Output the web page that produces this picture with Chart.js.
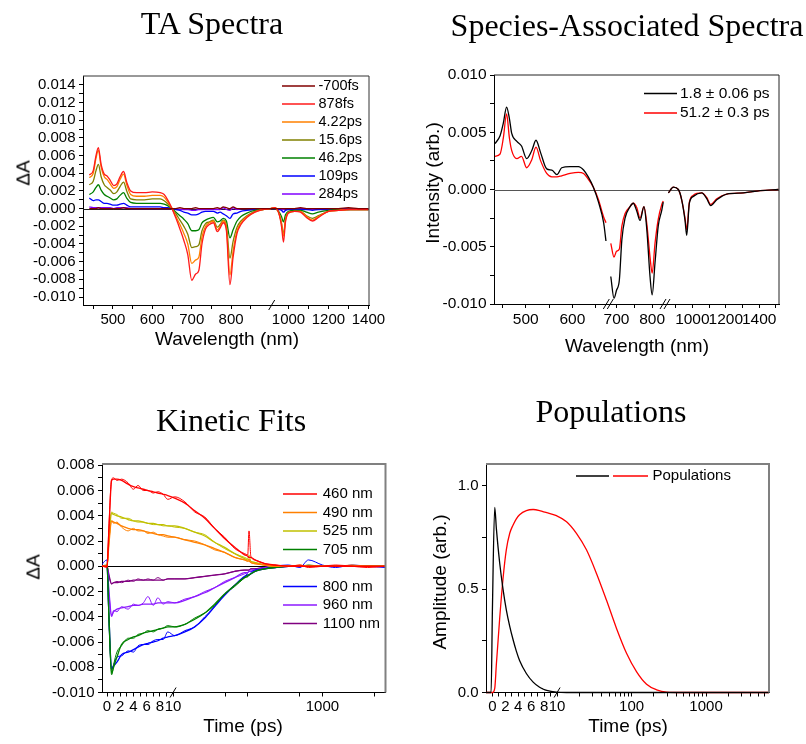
<!DOCTYPE html>
<html>
<head>
<meta charset="utf-8">
<script src="https://cdn.jsdelivr.net/npm/chart.js"></script>
<style>
  body { margin: 0; background: #fff; width: 806px; height: 744px; position: relative; overflow: hidden; font-family: "Liberation Sans", Arial, sans-serif; }
  canvas { position: absolute; left: 0; top: 0; }
  .t { position: absolute; font-family: "Liberation Serif", "Times New Roman", serif; font-size: 32px; line-height: 32px; white-space: nowrap; transform: translateX(-50%); }
  .ax { position: absolute; font-size: 19px; line-height: 19px; white-space: nowrap; transform: translate(-50%, -50%); }
  .ax.v { transform: translate(-50%, -50%) rotate(-90deg); }
</style>
</head>
<body>
<canvas id="ta" width="806" height="744"></canvas>
<canvas id="sas" width="806" height="744"></canvas>
<canvas id="kin" width="806" height="744"></canvas>
<canvas id="pop" width="806" height="744"></canvas>

<div class="t" style="left:212px;top:7px">TA Spectra</div>
<div class="t" style="left:627px;top:9px">Species-Associated Spectra</div>
<div class="t" style="left:231px;top:404px">Kinetic Fits</div>
<div class="t" style="left:611px;top:395px">Populations</div>

<div class="ax v" style="left:23px;top:173px">ΔA</div>
<div class="ax" style="left:227px;top:338px">Wavelength (nm)</div>
<div class="ax v" style="left:432px;top:183px">Intensity (arb.)</div>
<div class="ax" style="left:637px;top:345px">Wavelength (nm)</div>
<div class="ax v" style="left:33px;top:567px">ΔA</div>
<div class="ax" style="left:243px;top:725px">Time (ps)</div>
<div class="ax v" style="left:439px;top:582px">Amplitude (arb.)</div>
<div class="ax" style="left:628px;top:725px">Time (ps)</div>

<script>
// ---- TA spectra (nm) ----
var taWl = [440,450,457,463,470,478,485,493,502,510, 518,527,535,545,560,580,600,620,630,640,
            650,660,670,680,690,700,710,718,726,735, 745,755,765,772,780,788,797,805,815,825,
            840,860,880,900,930,950,965,975,985,1000, 1030,1060,1090,1120,1150,1200,1250,1300,1350,1400]
var taLabels = ['-700fs', '878fs', '4.22ps', '15.6ps', '46.2ps', '109ps', '284ps']
var ta700fs = [0,0,0,0.0001,0,0,0,0,0,0, 0,0.0001,0,0,0,0,0,0,0,0,
               0,0,0.0001,0,0,0,0.0001,0,0,0, 0,0,0.0001,0,0.0002,0.0001,0,0.0002,0,0,
               0,0,0,0,0,0,0,0,0,0, 0,0.0001,0,0,0,0,0,0.0001,0,0]
var ta878fs = [0.0038,0.0043,0.0060,0.0069,0.0050,0.0039,0.0037,0.0032,0.0026,0.0028,
               0.0036,0.0042,0.0030,0.0020,0.0018,0.0018,0.0019,0.0018,0.0016,0.0009,
               0.0000,-0.0011,-0.0023,-0.0036,-0.0052,-0.0081,-0.0074,-0.0070,-0.0040,-0.0023,
               -0.0018,-0.0016,-0.0026,-0.0022,-0.0016,-0.0025,-0.0086,-0.0055,-0.0028,-0.0018,
               -0.0010,-0.0004,-0.0001,0.0000,0.0001,-0.0004,-0.0020,-0.0038,-0.0015,-0.0005,
               -0.0003,-0.0004,-0.0010,-0.0014,-0.0010,-0.0003,-0.0002,-0.0001,-0.0001,-0.0001]
var ta422ps = [0.0035,0.0040,0.0057,0.0066,0.0047,0.0036,0.0033,0.0028,0.0023,0.0025,
               0.0033,0.0039,0.0027,0.0016,0.0014,0.0014,0.0015,0.0015,0.0013,0.0007,
               0.0000,-0.0009,-0.0018,-0.0028,-0.0040,-0.0062,-0.0058,-0.0055,-0.0032,-0.0020,
               -0.0016,-0.0014,-0.0024,-0.0020,-0.0014,-0.0022,-0.0075,-0.0048,-0.0025,-0.0016,
               -0.0009,-0.0004,-0.0001,0.0000,0.0001,-0.0004,-0.0017,-0.0031,-0.0013,-0.0005,
               -0.0003,-0.0003,-0.0009,-0.0013,-0.0009,-0.0003,-0.0002,-0.0001,-0.0001,-0.0001]
var ta156ps = [0.0027,0.0031,0.0043,0.0050,0.0036,0.0027,0.0024,0.0021,0.0017,0.0019,
               0.0025,0.0030,0.0020,0.0011,0.0010,0.0010,0.0011,0.0011,0.0009,0.0005,
               0.0000,-0.0006,-0.0013,-0.0020,-0.0029,-0.0044,-0.0043,-0.0041,-0.0025,-0.0017,
               -0.0015,-0.0013,-0.0021,-0.0018,-0.0013,-0.0019,-0.0056,-0.0037,-0.0021,-0.0014,
               -0.0008,-0.0003,-0.0001,0.0000,0.0001,-0.0004,-0.0016,-0.0029,-0.0012,-0.0004,
               -0.0003,-0.0003,-0.0008,-0.0011,-0.0008,-0.0003,-0.0002,-0.0001,-0.0001,-0.0001]
var ta462ps = [0.0016,0.0019,0.0024,0.0027,0.0021,0.0016,0.0014,0.0012,0.0010,0.0011,
               0.0015,0.0018,0.0012,0.0007,0.0006,0.0006,0.0006,0.0006,0.0005,0.0003,
               0.0000,-0.0004,-0.0008,-0.0012,-0.0017,-0.0025,-0.0025,-0.0024,-0.0016,-0.0013,
               -0.0011,-0.0010,-0.0015,-0.0014,-0.0011,-0.0014,-0.0033,-0.0024,-0.0014,-0.0009,
               -0.0005,-0.0002,-0.0001,0.0000,0.0000,-0.0003,-0.0009,-0.0015,-0.0007,-0.0003,
               -0.0002,-0.0002,-0.0004,-0.0006,-0.0004,-0.0002,-0.0001,-0.0001,-0.0001,-0.0001]
var ta109ps = [0.0012,0.0009,0.0010,0.0010,0.0008,0.0006,0.0006,0.0005,0.0004,0.0004,
               0.0005,0.0006,0.0004,0.0002,0.0002,0.0002,0.0002,0.0002,0.0001,0.0001,
               0.0000,-0.0001,-0.0002,-0.0004,-0.0005,-0.0007,-0.0007,-0.0006,-0.0004,-0.0003,
               -0.0003,-0.0003,-0.0005,-0.0004,-0.0006,-0.0008,-0.0011,-0.0006,-0.0005,-0.0003,
               -0.0002,-0.0001,0.0000,0.0000,0.0000,-0.0001,-0.0002,-0.0004,-0.0002,-0.0001,
               -0.0001,-0.0001,-0.0001,-0.0002,-0.0001,-0.0001,0.0000,-0.0001,0.0000,-0.0001]
var ta284ps = [0.0002,0.0001,0.0001,0.0001,0.0001,0.0001,0.0001,0.0001,0.0000,0.0001,
               0.0001,0.0001,0.0001,0,0,0,0,0,0,0,
               0,0,-0.0001,-0.0001,-0.0001,-0.0002,-0.0002,-0.0001,-0.0001,-0.0001,
               -0.0001,-0.0001,-0.0001,-0.0001,0.0001,-0.0001,-0.0002,0.0001,-0.0001,0,
               0,0,0,0,0,0,-0.0001,-0.0001,0,0,
               0,0,0,-0.0001,0,0,0,0,0,0]

// ---- species-associated spectra (null = axis break) ----
var sasWl = [434,445,452,459,465,470,481,491,502,513, 522,532,545,556,567,577,595,613,624,634,
             645,656,667,672,678, 684,693,700,708,715,724,738,747,757,766,777,785,794,800,808,817,827,831,
             845, 856,886,916,936,956,966,982,1006,1056,1086,1110,1146,1206,1305,1406,1516]
var sasLabels = ['1.8 ± 0.06 ps', '51.2 ± 0.3 ps']
var sasFast = [0.0040,0.0047,0.0058,0.0072,0.0062,0.0049,0.0042,0.0038,0.0027,0.0034,
               0.0043,0.0032,0.0018,0.0017,0.0013,0.0019,0.0020,0.0020,0.0017,0.0011,
               0.0002,-0.0011,-0.0029,-0.0045,null,
               -0.0076,-0.0095,-0.0088,-0.0079,-0.0044,-0.0025,-0.0015,-0.0012,-0.0019,-0.0027,-0.0015,-0.0035,-0.0076,-0.0092,-0.0064,-0.0032,-0.0018,-0.0011,
               null,
               -0.0003,0.0002,0.0000,-0.0009,-0.0027,-0.0040,-0.0012,-0.0006,-0.0003,-0.0008,-0.0014,-0.0009,-0.0004,-0.0003,-0.0001,0.0000]
var sasSlow = [0.0029,0.0031,0.0045,0.0066,0.0045,0.0034,0.0027,0.0029,0.0019,0.0026,
               0.0037,0.0025,0.0014,0.0011,0.0011,0.0012,0.0014,0.0015,0.0014,0.0009,
               0.0002,-0.0009,-0.0024,-0.0029,null,
               -0.0047,-0.0059,-0.0054,-0.0052,-0.0032,-0.0021,-0.0015,-0.0012,-0.0016,-0.0025,-0.0015,-0.0030,-0.0059,-0.0073,-0.0047,-0.0026,-0.0013,-0.0010,
               null,
               -0.0003,0.0002,0.0000,-0.0009,-0.0025,-0.0035,-0.0011,-0.0005,-0.0003,-0.0007,-0.0013,-0.0008,-0.0004,-0.0003,-0.0001,0.0000]

// ---- kinetic traces (ps) ----
var kinT = [-1,0,0.3,0.7,1.0,1.5,2.2,3.2,4.0,4.7, 5.5,6.2,7.0,7.7,8.5,9.2,10.5,14.4,19.5,26.6,
            36,49,67,91,100,104,110,125,170,232, 350,500,650,1000,1500,2500,4000,7000]
var kinLabels = ['460 nm', '490 nm', '525 nm', '705 nm', '800 nm', '960 nm', '1100 nm']
var kin460 = [0.0001,-0.0001,0.0034,0.0069,0.0070,0.0068,0.0069,0.0066,0.0061,0.0064, 0.0060,0.0060,0.0058,0.0059,0.0057,0.0053,0.0055,0.0051,0.0043,0.0039,
              0.0030,0.0023,0.0014,0.0010,0.0009,0.0028,0.0008,0.0005,0.0002,0.0001, 0.0000,0.0001,-0.0001,0.0000,0.0001,0.0000,-0.0001,0.0000]
var fit460 = [0,0,0.0030,0.0068,0.0069,0.0069,0.0068,0.0065,0.0063,0.0062, 0.0061,0.0060,0.0059,0.0058,0.0057,0.0056,0.0054,0.0050,0.0044,0.0038,
              0.0030,0.0022,0.0015,0.0009,0.0008,0.0007,0.0007,0.0005,0.0002,0.0001, 0,0,0,0,0,0,0,0]
var kin490 = [0,0,0.0020,0.0036,0.0034,0.0035,0.0031,0.0028,0.0030,0.0028, 0.0028,0.0026,0.0027,0.0025,0.0024,0.0023,0.0023,0.0021,0.0020,0.0017,
              0.0013,0.0011,0.0007,0.0005,0.0004,0.0006,0.0003,0.0002,0.0001,0, 0,0.0001,0,0,0,0.0001,0,0]
var fit490 = [0,0,0.0018,0.0036,0.0035,0.0034,0.0032,0.0030,0.0029,0.0029, 0.0028,0.0027,0.0026,0.0025,0.0025,0.0024,0.0023,0.0021,0.0019,0.0017,
              0.0014,0.0011,0.0007,0.0005,0.0004,0.0004,0.0003,0.0002,0.0001,0, 0,0,0,0,0,0,0,0]
var kin525 = [0,0,0.0025,0.0043,0.0042,0.0041,0.0038,0.0038,0.0036,0.0035, 0.0035,0.0034,0.0033,0.0033,0.0032,0.0032,0.0031,0.0030,0.0027,0.0025,
              0.0019,0.0014,0.0010,0.0007,0.0006,0.0009,0.0004,0.0003,0.0001,0, 0,0,0,0,0,0,0,0]
var fit525 = [0,0,0.0022,0.0042,0.0041,0.0040,0.0039,0.0037,0.0036,0.0036, 0.0035,0.0034,0.0034,0.0033,0.0033,0.0032,0.0032,0.0030,0.0027,0.0024,
              0.0019,0.0015,0.0010,0.0006,0.0005,0.0005,0.0004,0.0003,0.0001,0, 0,0,0,0,0,0,0,0]
var kin705 = [0,0.0001,-0.0045,-0.0086,-0.0078,-0.0068,-0.0063,-0.0057,-0.0057,-0.0054, -0.0053,-0.0051,-0.0052,-0.0050,-0.0049,-0.0047,-0.0048,-0.0046,-0.0041,-0.0037,
              -0.0031,-0.0022,-0.0016,-0.0009,-0.0007,-0.0007,-0.0006,-0.0004,-0.0002,-0.0001, 0,0,0.0001,0,0,0,0,0]
var fit705 = [0,0,-0.0040,-0.0085,-0.0080,-0.0072,-0.0062,-0.0058,-0.0056,-0.0055, -0.0053,-0.0052,-0.0051,-0.0050,-0.0049,-0.0048,-0.0048,-0.0046,-0.0042,-0.0037,
              -0.0030,-0.0022,-0.0015,-0.0009,-0.0008,-0.0007,-0.0006,-0.0004,-0.0002,-0.0001, 0,0,0,0,0,0,0,0]
var kin800 = [0,0.0005,-0.0045,-0.0082,-0.0078,-0.0072,-0.0071,-0.0067,-0.0068,-0.0063, -0.0062,-0.0062,-0.0059,-0.0058,-0.0058,-0.0052,-0.0055,-0.0051,-0.0048,-0.0040,
              -0.0032,-0.0022,-0.0015,-0.0008,-0.0006,-0.0007,-0.0005,-0.0003,-0.0002,0.0000, 0.0001,-0.0001,0.0005,0.0001,-0.0001,0.0001,0.0000,-0.0001]
var fit800 = [0,0,-0.0040,-0.0081,-0.0079,-0.0076,-0.0070,-0.0068,-0.0066,-0.0064, -0.0062,-0.0061,-0.0060,-0.0059,-0.0057,-0.0056,-0.0055,-0.0052,-0.0048,-0.0041,
              -0.0032,-0.0023,-0.0015,-0.0008,-0.0007,-0.0007,-0.0006,-0.0004,-0.0002,-0.0001, 0,0,0,0,0,0,0,0]
var kin960 = [0,0,-0.0022,-0.0040,-0.0035,-0.0036,-0.0032,-0.0034,-0.0030,-0.0031, -0.0029,-0.0024,-0.0031,-0.0025,-0.0030,-0.0028,-0.0029,-0.0026,-0.0024,-0.0020,
              -0.0017,-0.0012,-0.0009,-0.0006,-0.0005,-0.0004,-0.0003,-0.0003,-0.0001,0, 0,0,0,0,0,0,0,0]
var fit960 = [0,0,-0.0020,-0.0039,-0.0036,-0.0034,-0.0033,-0.0032,-0.0031,-0.0031, -0.0030,-0.0030,-0.0030,-0.0029,-0.0029,-0.0029,-0.0029,-0.0027,-0.0024,-0.0021,
              -0.0017,-0.0013,-0.0009,-0.0005,-0.0005,-0.0004,-0.0004,-0.0003,-0.0001,0, 0,0,0,0,0,0,0,0]
var kin1100 = [0,0,-0.0008,-0.0014,-0.0013,-0.0012,-0.0013,-0.0011,-0.0012,-0.0010, -0.0011,-0.0010,-0.0011,-0.0009,-0.0011,-0.0010,-0.0010,-0.0010,-0.0009,-0.0008,
               -0.0007,-0.0006,-0.0004,-0.0003,-0.0003,-0.0003,-0.0002,-0.0002,-0.0001,-0.0001, 0,0,0,0,0,0,0,0]
var fit1100 = [0,0,-0.0007,-0.0014,-0.0013,-0.0013,-0.0012,-0.0012,-0.0011,-0.0011, -0.0011,-0.0011,-0.0011,-0.0011,-0.0011,-0.0010,-0.0010,-0.0010,-0.0009,-0.0008,
               -0.0007,-0.0006,-0.0004,-0.0003,-0.0003,-0.0003,-0.0002,-0.0002,-0.0001,-0.0001, 0,0,0,0,0,0,0,0]

// ---- populations ----
var popT = [-1,-0.2,0,0.36,0.62,1.13,1.64,2.15,2.68,3.2, 3.7,4.2,5.25,6.3,7.3,7.8,8.4,9.9,13.4,18.2,
            24.8,33.8,46,62.8,85.6,117,159,217,296,500, 1000,3000,7000]
var popFast = [0,0,0.40,0.895,0.79,0.625,0.50,0.40,0.32,0.255, 0.20,0.155,0.092,0.05,0.025,0.017,0.010,0.002,0,0,
               0,0,0,0,0,0,0,0,0,0, 0,0,0]
var popSlow = [0,0,0,0.02,0.14,0.36,0.55,0.69,0.77,0.81, 0.84,0.86,0.88,0.885,0.88,0.875,0.87,0.855,0.826,0.77,
               0.69,0.576,0.447,0.31,0.19,0.10,0.04,0.013,0.002,0, 0,0,0]

// ---- helpers ----
const FONT = '"Liberation Sans", Arial, sans-serif'

// piecewise axis: [from, to, uFrom, uTo, log]
function axisMap(segs) {
    return function (v) {
        for (const s of segs) {
            if (v >= s[0] && v <= s[1]) {
                const f = s[4] ? Math.log10(v / s[0]) / Math.log10(s[1] / s[0]) : (v - s[0]) / (s[1] - s[0])
                return s[2] + f * (s[3] - s[2])
            }
        }
        return null
    }
}

function tickList(map, major, minor, fmt) {
    const list = major.map(v => ({ u: map(v), label: fmt(v) }))
        .concat(minor.map(v => ({ u: map(v), label: '' })))
    list.sort((a, b) => a.u - b.u)
    return list
}

const pts = (xs, ys, map) => xs.map((x, i) => ({ x: map(x), y: ys[i] }))

function line(label, data, color, width) {
    return { label: label, data: data, borderColor: color, borderWidth: width || 1.3,
        pointRadius: 0, fill: false, cubicInterpolationMode: 'monotone', spanGaps: false }
}

function extrasPlugin(cfg) {
    return {
        id: 'extras',
        beforeDatasetsDraw(chart) {
            if (cfg.zero == null) return
            const a = chart.chartArea, c = chart.ctx
            const y = Math.round(chart.scales.y.getPixelForValue(0)) + 0.5
            c.save()
            c.strokeStyle = cfg.zero
            c.lineWidth = 1
            c.beginPath(); c.moveTo(a.left, y); c.lineTo(a.right, y); c.stroke()
            c.restore()
        },
        afterDatasetsDraw(chart) {
            const a = chart.chartArea, c = chart.ctx
            c.save()
            c.strokeStyle = cfg.frame
            c.lineWidth = cfg.frameW
            c.beginPath()
            c.moveTo(a.left, a.top); c.lineTo(a.right, a.top); c.lineTo(a.right, a.bottom)
            c.stroke()
            c.strokeStyle = '#000'
            c.lineWidth = 1
            cfg.breaks.forEach(b => {
                const x = chart.scales.x.getPixelForValue(b.u)
                const n = b.n || 1
                for (let k = 0; k < n; k++) {
                    const dx = (k - (n - 1) / 2) * 4
                    c.beginPath()
                    c.moveTo(x + dx - 3, a.bottom + 5)
                    c.lineTo(x + dx + 3, a.bottom - 5)
                    c.stroke()
                }
            })
            c.restore()
        },
        afterDraw(chart) {
            const lg = cfg.legend, c = chart.ctx
            c.save()
            c.font = lg.size + 'px ' + FONT
            c.textBaseline = 'middle'
            c.fillStyle = '#000'
            lg.rows.forEach(r => {
                const y = lg.y + r.row * lg.dy
                r.lines.forEach(s => {
                    c.strokeStyle = s[2]
                    c.lineWidth = 1.5
                    c.beginPath(); c.moveTo(s[0], y); c.lineTo(s[1], y); c.stroke()
                })
                c.fillText(r.text, lg.tx, y)
            })
            c.restore()
        }
    }
}

function panel(id, cfg) {
    const a = cfg.area
    const tk = (list, pad) => ({
        autoSkip: false, maxRotation: 0, minRotation: 0, padding: pad, color: '#000',
        font: { family: FONT, size: cfg.tickSize },
        callback: (v, i) => (list[i] ? list[i].label : '')
    })
    const grid = { drawOnChartArea: false, drawTicks: true, tickLength: 4, color: '#000', lineWidth: 1 }
    new Chart(document.getElementById(id), {
        type: 'line',
        data: { datasets: cfg.datasets },
        options: {
            responsive: false,
            animation: false,
            events: [],
            layout: { padding: { left: a.l - 60, top: a.t, right: 806 - a.r, bottom: 744 - a.b - 30 } },
            plugins: { legend: { display: false }, tooltip: { enabled: false } },
            scales: {
                x: {
                    type: 'linear', min: cfg.xMin, max: cfg.xMax,
                    afterFit: s => { s.height = 30 },
                    afterBuildTicks: s => { s.ticks = cfg.xTicks.map(t => ({ value: t.u })) },
                    ticks: tk(cfg.xTicks, cfg.xPad),
                    grid: grid,
                    border: { display: true, color: '#000', width: 1 }
                },
                y: {
                    type: 'linear', min: cfg.yMin, max: cfg.yMax,
                    afterFit: s => { s.width = 60 },
                    afterBuildTicks: s => { s.ticks = cfg.yTicks.map(t => ({ value: t.u })) },
                    ticks: tk(cfg.yTicks, 3.5),
                    grid: grid,
                    border: { display: true, color: '#000', width: 1 }
                }
            }
        },
        plugins: [extrasPlugin(cfg)]
    })
}

const ident = v => v
const f3 = v => v.toFixed(3)

// ---- panel 1: TA spectra ----
const taMap = axisMap([[424, 903, 0, 188.9], [916, 1403, 188.9, 286.3]])
const taColors = ['#800000', '#ff1a1a', '#ff8000', '#808000', '#008000', '#0000ff', '#8000ff']
const taSeries = [ta700fs, ta878fs, ta422ps, ta156ps, ta462ps, ta109ps, ta284ps]
panel('ta', {
    area: { l: 83, t: 76, r: 369, b: 305 },
    xMin: 0, xMax: 286.3, yMin: -0.0109, yMax: 0.0150,
    tickSize: 15, xPad: 2,
    xTicks: tickList(taMap, [500, 600, 700, 800, 1000, 1200, 1400], [450, 550, 650, 750, 850, 1100, 1300], String),
    yTicks: tickList(ident, [-0.010, -0.008, -0.006, -0.004, -0.002, 0, 0.002, 0.004, 0.006, 0.008, 0.010, 0.012, 0.014],
        [-0.009, -0.007, -0.005, -0.003, -0.001, 0.001, 0.003, 0.005, 0.007, 0.009, 0.011, 0.013], f3),
    datasets: taSeries.map((s, i) => line(taLabels[i], pts(taWl, s, taMap), taColors[i], 1.3)),
    zero: '#222', frame: '#333', frameW: 1,
    breaks: [{ u: 188.9, n: 1 }],
    legend: { size: 14.5, y: 86, dy: 18, tx: 318.5,
        rows: taLabels.map((t, i) => ({ row: i, text: t, lines: [[282, 315, taColors[i]]] })) }
})

// ---- panel 2: species-associated spectra ----
const sasMap = axisMap([[432, 677, 0, 114.3], [677, 836, 114.3, 171], [836, 1519, 171, 285]])
panel('sas', {
    area: { l: 494, t: 75, r: 779, b: 304 },
    xMin: 0, xMax: 285, yMin: -0.010, yMax: 0.010,
    tickSize: 15.5, xPad: 2,
    xTicks: tickList(sasMap, [500, 600, 700, 800, 1000, 1200, 1400], [450, 550, 650, 750, 900, 1100, 1300, 1500], String),
    yTicks: tickList(ident, [-0.010, -0.005, 0, 0.005, 0.010], [-0.0075, -0.0025, 0.0025, 0.0075], f3),
    datasets: [
        line(sasLabels[0], pts(sasWl, sasFast, sasMap), '#000000', 1.3),
        line(sasLabels[1], pts(sasWl, sasSlow, sasMap), '#ff0000', 1.3)
    ],
    zero: '#555', frame: '#222', frameW: 1,
    breaks: [{ u: 114.3, n: 2 }, { u: 171, n: 2 }],
    legend: { size: 15.5, y: 93.5, dy: 19.4, tx: 680,
        rows: [{ row: 0, text: sasLabels[0], lines: [[644, 677, '#000000']] },
               { row: 1, text: sasLabels[1], lines: [[644, 677, '#ff0000']] }] }
})

// ---- panel 3: kinetic fits ----
const kinMap = axisMap([[-1, 10, -1.6, 71], [10, 7000, 71, 283.2, true]])
const kinColors = ['#ff0000', '#ff8000', '#c0c000', '#008000', '#0000ff', '#8c1aff', '#800080']
const kinData = [kin460, kin490, kin525, kin705, kin800, kin960, kin1100]
const kinFit = [fit460, fit490, fit525, fit705, fit800, fit960, fit1100]
const kinSets = []
kinData.forEach((s, i) => {
    kinSets.push(line(kinLabels[i], pts(kinT, s, kinMap), kinColors[i], 1))
    kinSets.push(line(kinLabels[i] + ' fit', pts(kinT, kinFit[i], kinMap), kinColors[i], 1.3))
})
panel('kin', {
    area: { l: 102, t: 464, r: 385.5, b: 692.5 },
    xMin: 0, xMax: 283.2, yMin: -0.0100, yMax: 0.0081,
    tickSize: 15, xPad: 1,
    xTicks: tickList(kinMap, [0, 2, 4, 6, 8, 10, 1000], [1, 3, 5, 7, 9, 50, 100, 500, 5000], String),
    yTicks: tickList(ident, [-0.010, -0.008, -0.006, -0.004, -0.002, 0, 0.002, 0.004, 0.006, 0.008],
        [-0.009, -0.007, -0.005, -0.003, -0.001, 0.001, 0.003, 0.005, 0.007], f3),
    datasets: kinSets,
    zero: '#000', frame: '#808080', frameW: 2,
    breaks: [{ u: 71, n: 1 }],
    legend: { size: 15, y: 494, dy: 18.5, tx: 322.7,
        rows: kinLabels.map((t, i) => ({ row: i < 4 ? i : i + 1, text: t, lines: [[283, 317, kinColors[i]]] })) }
})

// ---- panel 4: populations ----
const popMap = axisMap([[-1, 10, -0.06, 71], [10, 7000, 71, 282.7, true]])
const popSets = [
    line('Population 1', pts(popT, popFast, popMap), '#000000', 1.3),
    line('Population 2', pts(popT, popSlow, popMap), '#ff0000', 1.3)
]
popSets.forEach(d => { d.clip = { left: 0, top: 0, right: 0, bottom: 2 } })
panel('pop', {
    area: { l: 486, t: 464, r: 769, b: 692.5 },
    xMin: 0, xMax: 282.7, yMin: 0, yMax: 1.105,
    tickSize: 15, xPad: 1,
    xTicks: tickList(popMap, [0, 2, 4, 6, 8, 10, 100, 1000],
        [1, 3, 5, 7, 9, 20, 30, 40, 50, 60, 70, 80, 90, 200, 300, 400, 500, 600, 700, 800, 900, 2000, 3000, 4000, 5000, 6000], String),
    yTicks: tickList(ident, [0, 0.5, 1.0], [0.25, 0.75], v => v.toFixed(1)),
    datasets: popSets,
    zero: null, frame: '#808080', frameW: 2,
    breaks: [{ u: 71, n: 1 }],
    legend: { size: 15, y: 476, dy: 0, tx: 652.5,
        rows: [{ row: 0, text: 'Populations', lines: [[576, 609, '#000000'], [613, 648, '#ff0000']] }] }
})
</script>
</body>
</html>
